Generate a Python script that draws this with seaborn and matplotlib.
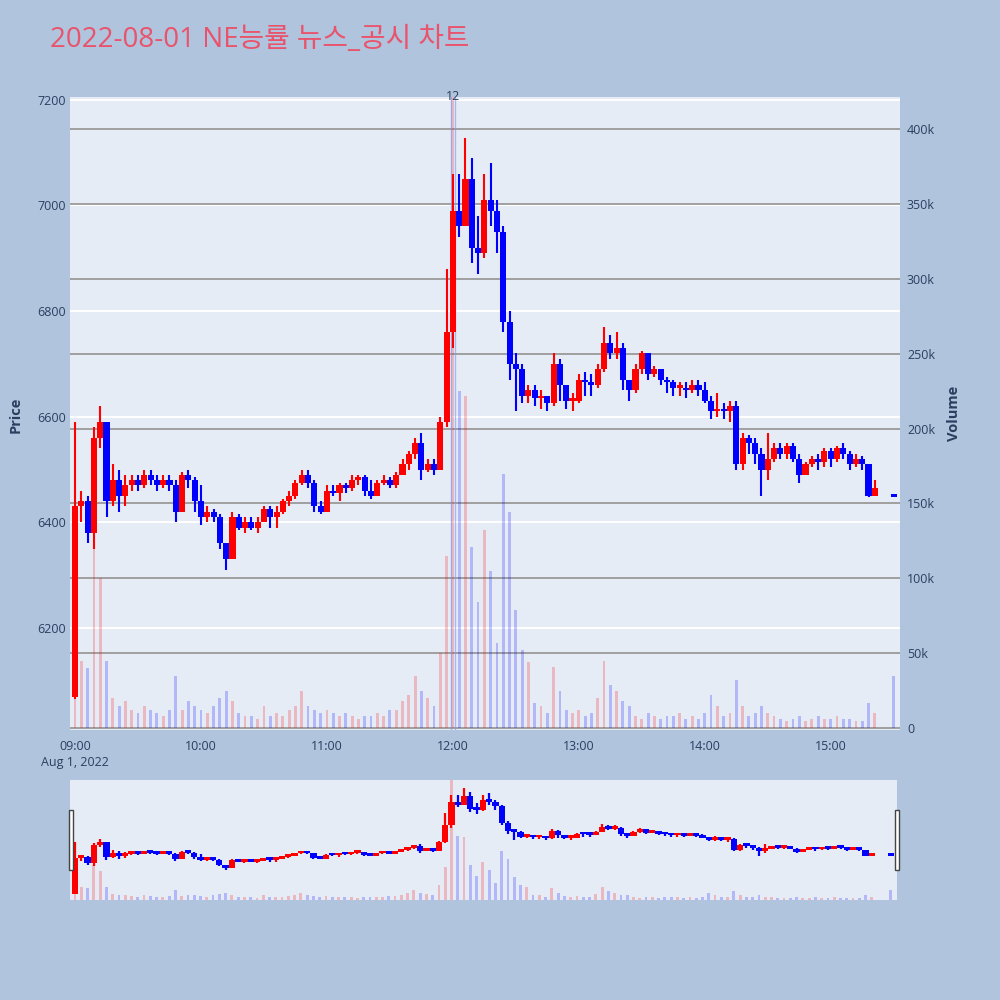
import numpy as np
import pandas as pd
import matplotlib
matplotlib.use("Agg")
import matplotlib.pyplot as plt
import matplotlib.transforms as mtransforms
from matplotlib.patches import Rectangle
import seaborn as sns

# ---------------- data (3-minute candles, minutes after 09:00) ----------------
minutes = list(range(0, 384, 3)) + [390]

first_open = 6070
closes = [6430, 6440, 6380, 6560, 6590, 6440, 6480, 6450, 6470, 6480,
          6470, 6490, 6480, 6470, 6480, 6470, 6420, 6490, 6480, 6440,
          6410, 6420, 6410, 6360, 6330, 6410, 6390, 6400, 6390, 6400,
          6425, 6410, 6420, 6440, 6450, 6475, 6490, 6475, 6430, 6420,
          6460, 6455, 6470, 6465, 6480, 6485, 6460, 6450, 6475, 6480,
          6470, 6490, 6510, 6530, 6550, 6500, 6510, 6500, 6590, 6760,
          6990, 6960, 7050, 6920, 6910, 7010, 6990, 6950, 6780, 6700,
          6690, 6640, 6650, 6635, 6640, 6625, 6700, 6660, 6630, 6630,
          6670, 6665, 6660, 6690, 6740, 6720, 6730, 6670, 6650, 6690,
          6720, 6680, 6690, 6670, 6665, 6655, 6655, 6650, 6660, 6650,
          6630, 6610, 6615, 6610, 6620, 6510, 6560, 6550, 6530, 6500,
          6520, 6540, 6530, 6545, 6520, 6490, 6510, 6520, 6515, 6535,
          6520, 6540, 6530, 6510, 6520, 6510, 6450, 6465, 6448]
highs = [6590, 6460, 6450, 6580, 6620, 6560, 6510, 6500, 6490, 6490,
         6490, 6500, 6500, 6490, 6490, 6490, 6480, 6495, 6500, 6485,
         6470, 6430, 6425, 6415, 6360, 6420, 6415, 6410, 6410, 6410,
         6430, 6430, 6430, 6445, 6460, 6480, 6500, 6500, 6480, 6440,
         6470, 6470, 6475, 6475, 6490, 6490, 6490, 6480, 6480, 6490,
         6485, 6495, 6520, 6535, 6560, 6570, 6520, 6520, 6600, 6880,
         7060, 7060, 7128, 7090, 6980, 7060, 7080, 7010, 6960, 6800,
         6720, 6700, 6660, 6660, 6650, 6640, 6720, 6710, 6660, 6645,
         6680, 6685, 6680, 6700, 6770, 6755, 6760, 6740, 6670, 6700,
         6725, 6720, 6695, 6690, 6675, 6670, 6665, 6665, 6670, 6670,
         6665, 6640, 6645, 6625, 6630, 6630, 6570, 6565, 6560, 6540,
         6570, 6550, 6550, 6550, 6550, 6530, 6515, 6525, 6530, 6540,
         6540, 6545, 6550, 6535, 6530, 6525, 6500, 6480, 6448]
lows = [6065, 6400, 6360, 6350, 6540, 6410, 6430, 6420, 6430, 6460,
        6460, 6465, 6470, 6460, 6465, 6460, 6400, 6430, 6465, 6420,
        6395, 6400, 6400, 6350, 6310, 6330, 6385, 6380, 6385, 6380,
        6400, 6390, 6390, 6415, 6430, 6445, 6470, 6465, 6420, 6415,
        6420, 6450, 6440, 6455, 6460, 6470, 6450, 6445, 6450, 6470,
        6465, 6465, 6490, 6500, 6520, 6480, 6495, 6490, 6500, 6580,
        6730, 6940, 6960, 6890, 6870, 6900, 6960, 6910, 6760, 6670,
        6610, 6625, 6625, 6620, 6615, 6610, 6620, 6630, 6615, 6610,
        6625, 6640, 6640, 6655, 6685, 6710, 6710, 6650, 6630, 6645,
        6680, 6670, 6675, 6660, 6645, 6640, 6640, 6635, 6645, 6640,
        6625, 6595, 6600, 6595, 6590, 6500, 6500, 6530, 6510, 6450,
        6480, 6515, 6520, 6520, 6515, 6475, 6490, 6505, 6500, 6505,
        6505, 6515, 6520, 6500, 6505, 6500, 6448, 6450, 6448]
volume_k = [200, 45, 40, 122, 100, 45, 20, 15, 18, 12,
            10, 15, 12, 10, 8, 12, 35, 12, 18, 15,
            12, 10, 15, 20, 25, 18, 10, 8, 8, 6,
            15, 8, 10, 8, 12, 15, 25, 15, 12, 10,
            12, 10, 8, 10, 8, 6, 8, 8, 10, 8,
            12, 12, 18, 22, 35, 25, 20, 15, 50, 115,
            430, 225, 222, 121, 84, 132, 105, 57, 170, 144,
            79, 52, 44, 17, 15, 10, 41, 25, 12, 10,
            12, 8, 10, 20, 45, 29, 25, 18, 15, 8,
            6, 10, 8, 6, 8, 8, 10, 6, 8, 6,
            10, 22, 15, 8, 10, 32, 15, 8, 10, 15,
            10, 8, 6, 5, 6, 8, 5, 6, 8, 6,
            6, 8, 6, 6, 5, 5, 17, 10, 35]

price_ticks = [6200, 6400, 6600, 6800, 7000, 7200]
volume_ticks = [0, 50, 100, 150, 200, 250, 300, 350, 400]
volume_labels = ["0", "50k", "100k", "150k", "200k", "250k", "300k", "350k", "400k"]
time_ticks = [0, 60, 120, 180, 240, 300, 360]
time_labels = ["09:00\nAug 1, 2022", "10:00", "11:00", "12:00", "13:00", "14:00", "15:00"]
news_minutes = [179, 181]
news_label = "12"
title = "2022-08-01 NE능률 뉴스_공시 차트"

# opens: previous close; the 15:30 closing auction is a single price
opens = [first_open] + closes[:-1]
opens[-1] = closes[-1]
prev_close = [first_open] + closes[:-1]

df = pd.DataFrame({"minute": minutes, "open": opens, "high": highs,
                   "low": lows, "close": closes, "volume": volume_k,
                   "prev": prev_close})
df["dir"] = np.where(df["close"] > df["open"], "up",
                     np.where(df["close"] < df["open"], "down",
                              np.where(df["close"] >= df["prev"], "up", "down")))

# ---------------- style ----------------
sns.set_style("white")
plt.rcParams["font.family"] = ["Open Sans", "Noto Sans CJK KR", "DejaVu Sans"]

BG = "#B0C4DE"
PLOT_BG = "#E5ECF6"
TXT = "#2a3f5f"
UP = "#FF0000"
DOWN = "#0000FF"

XLIM = (-2.4, 393.0)
PLIM = (6007, 7205)
VLIM = (-1.3, 421.5)


def price_to_vol(p):
    return VLIM[0] + (p - PLIM[0]) / (PLIM[1] - PLIM[0]) * (VLIM[1] - VLIM[0])


def draw_panel(axv, axp, lw_wick=1.5, body_w=2.9, min_body=5, main=True):
    axv.set_facecolor(PLOT_BG)
    if main:
        for p in price_ticks:
            axv.axhline(price_to_vol(p), color="white", lw=1.4, zorder=0.5)
        for v in volume_ticks:
            axv.axhline(v, color="#9a9a9a", lw=1.3, zorder=0.6)
    sns.barplot(data=df, x="minute", y="volume", hue="dir",
                palette={"up": UP, "down": DOWN}, native_scale=True,
                dodge=False, width=0.45, alpha=0.22, errorbar=None,
                legend=False, saturation=1, ax=axv, zorder=1, linewidth=0)
    axv.set_ylim(*VLIM)
    axv.set_xlim(*XLIM)
    cols = np.where(df["dir"] == "up", UP, DOWN)
    axp.vlines(df["minute"], df["low"], df["high"], colors=cols, lw=lw_wick, zorder=3)
    body_lo = np.minimum(df["open"], df["close"])
    body_h = np.maximum(np.abs(df["close"] - df["open"]), min_body)
    axp.bar(df["minute"], body_h, bottom=body_lo, width=body_w, color=cols,
            linewidth=0, zorder=4)
    axp.set_ylim(*PLIM)
    axp.set_xlim(*XLIM)
    for a in (axv, axp):
        for s in a.spines.values():
            s.set_visible(False)
        a.set_xlabel("")
        a.set_ylabel("")


fig = plt.figure(figsize=(10, 10), dpi=100, facecolor=BG)

# main panel
ax = fig.add_axes([0.07, 0.27, 0.83, 0.633])
axp = ax.twinx()
axp.patch.set_visible(False)
draw_panel(ax, axp)

ax.yaxis.tick_right()
ax.set_yticks(volume_ticks)
ax.set_yticklabels(volume_labels)
ax.tick_params(axis="y", length=0, pad=5, labelsize=9, labelcolor=TXT,
               left=False, labelleft=False, right=False, labelright=True)
axp.yaxis.tick_left()
axp.set_yticks(price_ticks)
axp.set_yticklabels([str(p) for p in price_ticks])
axp.tick_params(axis="y", length=0, pad=3, labelsize=9, labelcolor=TXT,
                left=False, labelleft=True, right=False, labelright=False)
ax.set_xticks(time_ticks)
ax.set_xticklabels(time_labels, linespacing=1.3)
ax.tick_params(axis="x", length=0, pad=7, labelsize=9, labelcolor=TXT)
axp.tick_params(axis="x", length=0)

# news markers
for m in news_minutes:
    axp.axvline(m, color="#7f98e6", alpha=0.6, lw=1.0, zorder=2)
trans = mtransforms.blended_transform_factory(axp.transData, axp.transAxes)
axp.text(np.mean(news_minutes), 1.0, news_label, transform=trans, ha="center",
         va="center", fontsize=9, color=TXT, zorder=6)

# range slider
ax2 = fig.add_axes([0.07, 0.10, 0.827, 0.12])
ax2p = ax2.twinx()
ax2p.patch.set_visible(False)
draw_panel(ax2, ax2p, lw_wick=1.6, body_w=3.0, min_body=25, main=False)
for a in (ax2, ax2p):
    a.set_xticks([])
    a.set_yticks([])
    a.tick_params(length=0)

# slider handles
for x0 in (0.0685, 0.8945):
    fig.patches.append(Rectangle((x0, 0.130), 0.0045, 0.060, transform=fig.transFigure,
                                 facecolor="white", edgecolor="#444444", lw=1.0,
                                 zorder=10))

# titles
fig.text(0.05, 0.96, title, fontsize=20, color="#E9536B", ha="left", va="center")
fig.text(0.009, 0.585, "Price", rotation=90, ha="left", va="center",
         fontsize=10.5, fontweight="bold", color=TXT)
fig.text(0.954, 0.587, "Volume", rotation=90, ha="center", va="center",
         fontsize=10.5, fontweight="bold", color=TXT)

fig.savefig("out.png", dpi=100, facecolor=BG)
